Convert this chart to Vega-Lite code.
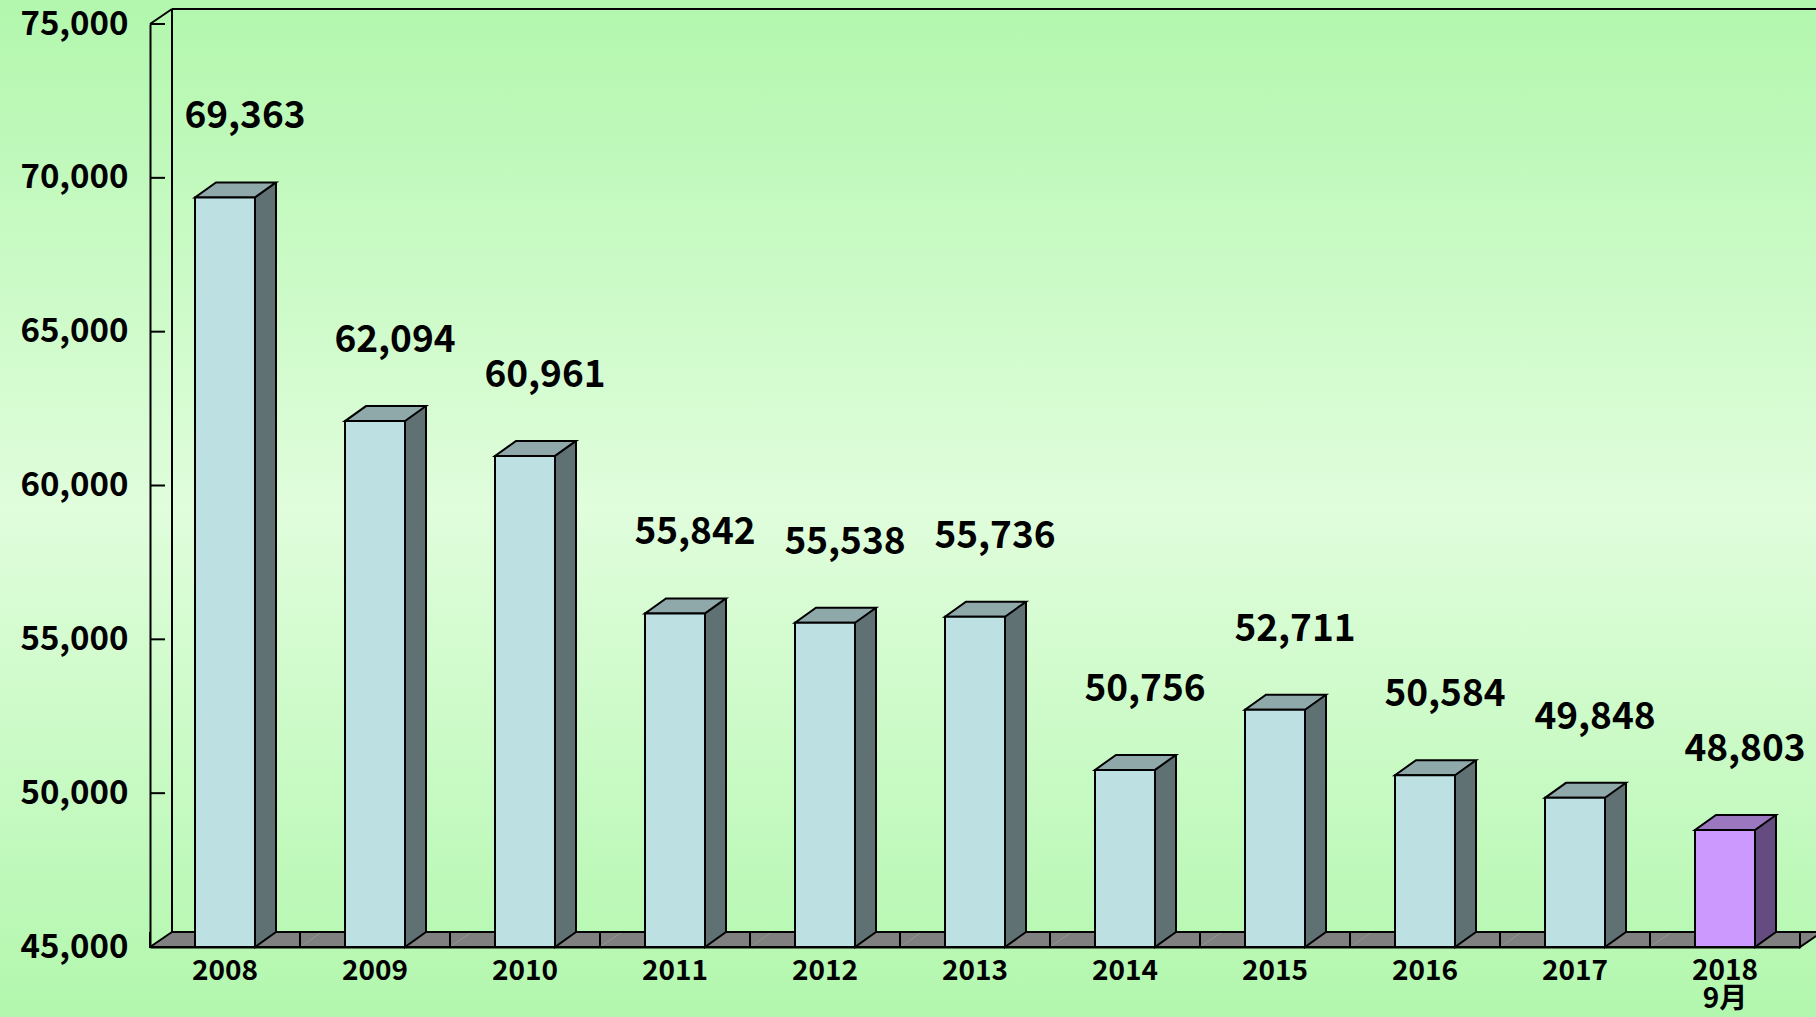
{
  "$schema": "https://vega.github.io/schema/vega-lite/v6.json",
  "width": 1816,
  "height": 1017,
  "padding": 0,
  "autosize": {"type": "none"},
  "view": {
    "fill": {"gradient": "linear", "x1": 0, "y1": 0, "x2": 0, "y2": 1,
      "stops": [
        {"offset": 0, "color": "#b2f7ad"},
        {"offset": 0.5, "color": "#e0fddc"},
        {"offset": 1, "color": "#b2f7ad"}
      ]},
    "stroke": null
  },
  "config": {"font": "Noto Sans CJK JP"},
  "data": {"values": [
    {"year": "2008", "value": 69363},
    {"year": "2009", "value": 62094},
    {"year": "2010", "value": 60961},
    {"year": "2011", "value": 55842},
    {"year": "2012", "value": 55538},
    {"year": "2013", "value": 55736},
    {"year": "2014", "value": 50756},
    {"year": "2015", "value": 52711},
    {"year": "2016", "value": 50584},
    {"year": "2017", "value": 49848},
    {"year": "2018", "value": 48803}
  ]},
  "encoding": {
    "x": {
      "field": "year", "type": "ordinal", "sort": null,
      "scale": {"range": [150, 1800], "paddingInner": 0, "paddingOuter": 0},
      "axis": {
        "title": null, "labelAngle": 0, "domainColor": "black", "domainWidth": 2,
        "ticks": false,
        "labelFontSize": 28, "labelFontWeight": "bold", "labelColor": "black",
        "labelPadding": 10, "labelBaseline": "top", "labelLineHeight": 28,
        "labelExpr": "datum.value == '2018' ? ['2018', '9月'] : datum.label",
        "offset": -70
      }
    },
    "y": {
      "field": "value", "type": "quantitative",
      "scale": {"domain": [45000, 75000], "range": [947, 24], "nice": false, "zero": false},
      "axis": {
        "title": null, "values": [45000, 50000, 55000, 60000, 65000, 70000, 75000],
        "format": ",d", "domainColor": "black", "domainWidth": 2, "grid": false,
        "ticks": false,
        "labelFontSize": 33, "labelFontWeight": "bold", "labelColor": "black",
        "labelPadding": 22, "labelFlush": false, "labelOverlap": false,
        "offset": -150
      }
    }
  },
  "layer": [
    {
      "transform": [{"filter": "datum.year == '2008'"}],
      "mark": {"type": "rule", "color": "black", "strokeWidth": 2, "xOffset": 22, "yOffset": -15, "y2Offset": -15},
      "encoding": {
        "x": {"field": "year", "type": "ordinal", "sort": null, "bandPosition": 0},
        "y": {"datum": 75000, "type": "quantitative"},
        "y2": {"datum": 45000}
      }
    },
    {
      "mark": {"type": "point", "shape": "M -53 -15 L 97 -15", "size": 4, "filled": false, "stroke": "black", "strokeWidth": 2, "opacity": 1},
      "encoding": {"y": {"datum": 75000, "type": "quantitative"}}
    },
    {
      "transform": [{"filter": "datum.year == '2008'"}],
      "mark": {"type": "point", "shape": "M -75 0 L -53 -15", "size": 4, "filled": false, "stroke": "black", "strokeWidth": 2, "opacity": 1},
      "encoding": {"y": {"datum": 75000, "type": "quantitative"}}
    },
    {
      "data": {"values": [{"tick": 50000}, {"tick": 55000}, {"tick": 60000}, {"tick": 65000}, {"tick": 70000}, {"tick": 75000}]},
      "mark": {"type": "point", "shape": "M -75 0 L -60 0", "size": 4, "filled": false, "stroke": "black", "strokeWidth": 2, "opacity": 1},
      "encoding": {
        "x": {"datum": "2008", "type": "ordinal"},
        "y": {"field": "tick", "type": "quantitative"}
      }
    },
    {
      "mark": {"type": "point", "shape": "M -75 0 L 75 0 L 97 -15 L -53 -15 Z", "size": 4, "filled": true, "fill": "#808080", "strokeWidth": 0, "opacity": 1},
      "encoding": {"y": {"datum": 45000, "type": "quantitative"}}
    },
    {
      "mark": {"type": "point", "shape": "M -53 -15 L 97 -15", "size": 4, "filled": false, "stroke": "black", "strokeWidth": 2, "opacity": 1},
      "encoding": {"y": {"datum": 45000, "type": "quantitative"}}
    },
    {
      "mark": {"type": "point", "shape": "M -75 -15 L -75 0 L 75 0", "size": 4, "filled": false, "stroke": "black", "strokeWidth": 2, "opacity": 1},
      "encoding": {"y": {"datum": 45000, "type": "quantitative"}}
    },
    {
      "transform": [{"filter": "datum.year == '2008'"}],
      "mark": {"type": "point", "shape": "M -75 0 L -53 -15", "size": 4, "filled": false, "stroke": "black", "strokeWidth": 2, "opacity": 1},
      "encoding": {"y": {"datum": 45000, "type": "quantitative"}}
    },
    {
      "transform": [{"filter": "datum.year == '2018'"}],
      "mark": {"type": "point", "shape": "M 75 -15 L 75 0 L 97 -15", "size": 4, "filled": false, "stroke": "black", "strokeWidth": 2, "opacity": 1},
      "encoding": {"y": {"datum": 45000, "type": "quantitative"}}
    },
    {
      "mark": {"type": "bar", "width": 21, "xOffset": 40.5, "yOffset": -15, "y2Offset": -15, "strokeWidth": 0},
      "encoding": {
        "y2": {"datum": 45000},
        "fill": {"condition": {"test": "datum.year == '2018'", "value": "#654c80"}, "value": "#5f7172"}
      }
    },
    {
      "mark": {"type": "point", "shape": "M 51 -15 L 30 0 L 30 -15", "size": 4, "filled": true, "stroke": "black", "strokeWidth": 2, "opacity": 1},
      "encoding": {
        "y": {"datum": 45000, "type": "quantitative"},
        "fill": {"condition": {"test": "datum.year == '2018'", "value": "#654c80"}, "value": "#5f7172"}
      }
    },
    {
      "mark": {"type": "rule", "color": "black", "strokeWidth": 2, "xOffset": 51, "yOffset": -15, "y2Offset": -15},
      "encoding": {
        "y2": {"datum": 45000}
      }
    },
    {
      "mark": {"type": "point", "shape": "M -30 0 L 30 0 L 51 -15 L -9 -15 Z", "size": 4, "filled": true, "stroke": "black", "strokeWidth": 2, "opacity": 1},
      "encoding": {
        "fill": {"condition": {"test": "datum.year == '2018'", "value": "#9b77bf"}, "value": "#8fa9ab"}
      }
    },
    {
      "mark": {"type": "bar", "width": 60, "stroke": "black", "strokeWidth": 2},
      "encoding": {
        "y2": {"datum": 45000},
        "fill": {"condition": {"test": "datum.year == '2018'", "value": "#cc99ff"}, "value": "#bde0e3"}
      }
    },
    {
      "mark": {"type": "text", "dx": 20, "dy": -80, "fontSize": 37, "fontWeight": "bold", "color": "black", "baseline": "middle", "align": "center"},
      "encoding": {
        "text": {"field": "value", "type": "quantitative", "format": ",d"}
      }
    }
  ]
}
